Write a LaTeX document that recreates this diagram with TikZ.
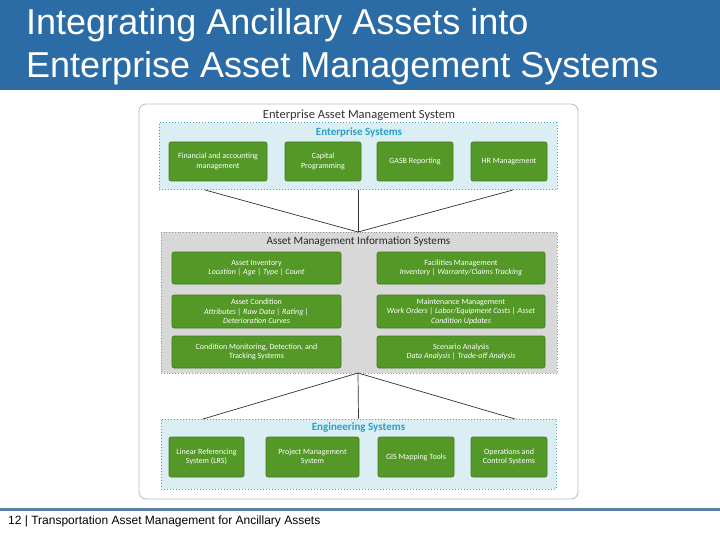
\documentclass[tikz,border=0pt]{standalone}
\usepackage{fontspec}
\setmainfont{Liberation Sans}
\newfontfamily\carfont{Carlito}
\definecolor{hdrblue}{RGB}{44,108,166}
\definecolor{footblue}{RGB}{90,128,166}
\definecolor{gfill}{RGB}{84,152,40}
\definecolor{gdraw}{RGB}{64,122,30}
\definecolor{entfill}{RGB}{219,238,244}
\definecolor{entdraw}{RGB}{60,170,200}
\definecolor{entlabel}{RGB}{40,160,200}
\definecolor{amisfill}{RGB}{216,216,216}
\definecolor{amisdraw}{RGB}{150,150,150}
\definecolor{outerdraw}{RGB}{176,190,200}
\definecolor{linkc}{RGB}{50,50,50}
\begin{document}
\begin{tikzpicture}[x=1pt,y=-1pt,
  gbox/.style={draw=gdraw,fill=gfill,rounded corners=2pt,text=white,align=center,
    font=\carfont\fontsize{8}{9.6}\selectfont,inner sep=1pt,line width=0.6pt},
  entbox/.style={draw=entdraw,fill=entfill,dotted,line width=1pt},
  amisbox/.style={draw=amisdraw,fill=amisfill,dotted,line width=0.8pt},
  link/.style={draw=linkc,line width=0.7pt}]
\useasboundingbox (0,0) rectangle (720,540);
\fill[white] (0,0) rectangle (720,540);
% header
\fill[hdrblue] (0,0) rectangle (720,90);
\node[anchor=base west,text=white,font=\fontsize{36}{42}\selectfont,inner sep=0] (t1) at (26,35) {Integrating Ancillary Assets into};
\node[anchor=base west,text=white,font=\fontsize{36}{42}\selectfont,inner sep=0] (t2) at (26,78) {Enterprise Asset Management Systems};
% footer
\fill[footblue] (0,508) rectangle (720,511);
\node[anchor=base west,font=\fontsize{12}{14}\selectfont,inner sep=0] (foot) at (8,524.5) {12 | Transportation Asset Management for Ancillary Assets};
% outer box
\node[draw=outerdraw,fill=white,rounded corners=7pt,minimum width=439,minimum height=395,line width=0.8pt,inner sep=0] (outer) at (358.5,301.5) {};
\node[font=\carfont\fontsize{12.5}{14}\selectfont,text=black!80,inner sep=0] (ttl) at (359,115) {Enterprise Asset Management System};
% enterprise systems
\node[entbox,minimum width=398,minimum height=67,inner sep=0] (ent) at (358,156.5) {};
\node[font=\carfont\bfseries\fontsize{11}{13}\selectfont,text=entlabel,inner sep=0] (entl) at (359,133) {Enterprise Systems};
\node[gbox,minimum width=98,minimum height=39] (e1) at (218,161.5) {Financial and accounting\\management};
\node[gbox,minimum width=76,minimum height=39] (e2) at (323,161.5) {Capital\\Programming};
\node[gbox,minimum width=76,minimum height=39] (e3) at (415,161.5) {GASB Reporting};
\node[gbox,minimum width=76,minimum height=39] (e4) at (509,161.5) {HR Management};
% AMIS
\node[amisbox,minimum width=396,minimum height=141,inner sep=0] (amis) at (359,302.5) {};
\node[font=\carfont\fontsize{11.2}{13}\selectfont,text=black!85,inner sep=0] (amisl) at (358.5,242) {Asset Management Information Systems};
\node[gbox,minimum width=169,minimum height=32] (a1) at (256.5,268) {Asset Inventory\\\textit{Location | Age | Type | Count}};
\node[gbox,minimum width=168,minimum height=32] (a2) at (461,268) {Facilities Management\\\textit{Inventory | Warranty/Claims Tracking}};
\node[gbox,minimum width=169,minimum height=33] (a3) at (256.5,311.5) {Asset Condition\\\textit{Attributes | Raw Data | Rating |}\\\textit{Deterioration Curves}};
\node[gbox,minimum width=168,minimum height=33] (a4) at (461,311.5) {Maintenance Management\\\textit{Work Orders | Labor/Equipment Costs | Asset}\\\textit{Condition Updates}};
\node[gbox,minimum width=169,minimum height=32] (a5) at (256.5,352) {Condition Monitoring, Detection, and\\Tracking Systems};
\node[gbox,minimum width=168,minimum height=32] (a6) at (461,352) {Scenario Analysis\\\textit{Data Analysis | Trade-off Analysis}};
% engineering systems
\node[entbox,minimum width=395,minimum height=70,inner sep=0] (eng) at (358.5,454) {};
\node[font=\carfont\bfseries\fontsize{11}{13}\selectfont,text=entlabel,inner sep=0] (engl) at (358.5,428) {Engineering Systems};
\node[gbox,minimum width=75,minimum height=40] (g1) at (206.5,457) {Linear Referencing\\System (LRS)};
\node[gbox,minimum width=93,minimum height=40] (g2) at (312.5,457) {Project Management\\System};
\node[gbox,minimum width=76,minimum height=40] (g3) at (416,457) {GIS Mapping Tools};
\node[gbox,minimum width=76,minimum height=40] (g4) at (509,457) {Operations and\\Control Systems};
% connectors
\coordinate (ta) at (205,190);
\coordinate (tb) at (513,190);
\coordinate (atop) at (358,232);
\coordinate (abot) at (358,373);
\coordinate (ba) at (203,419);
\coordinate (bb) at (515,419);
\draw[link] (ta) -- (atop);
\draw[link] (ent.south) -- (atop);
\draw[link] (tb) -- (atop);
\draw[link] (abot) -- (ba);
\draw[link] (abot) -- (eng.north);
\draw[link] (abot) -- (bb);
\end{tikzpicture}
\end{document}
